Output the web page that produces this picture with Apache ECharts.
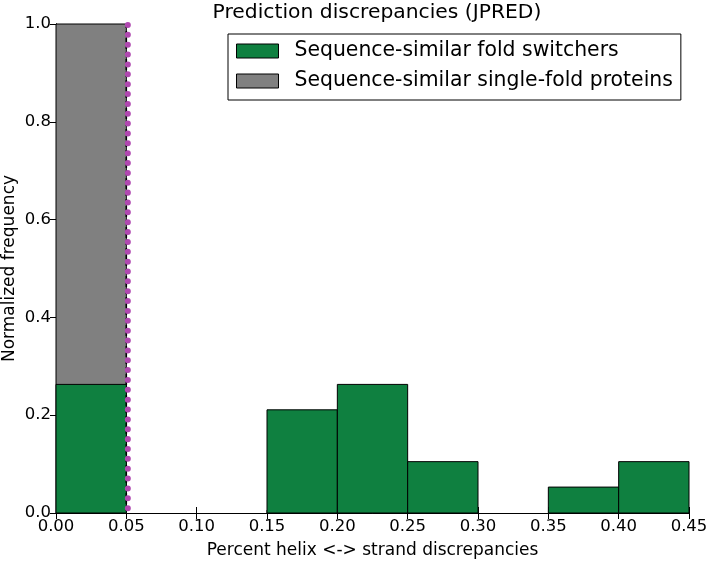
<!DOCTYPE html>
<html>
<head>
<meta charset="utf-8">
<script src="https://cdn.jsdelivr.net/npm/echarts@6/dist/echarts.min.js"></script>
<style>
  html, body { margin: 0; padding: 0; background: #fff; }
  #chart { width: 709px; height: 562px; }
</style>
</head>
<body>
<div id="chart"></div>
<script>
// histogram bins (left edges), width 0.05
const binStarts = [0.00, 0.05, 0.10, 0.15, 0.20, 0.25, 0.30, 0.35, 0.40];
const binWidth = 0.05;
const switcherFreq = [0.263, 0, 0, 0.211, 0.263, 0.105, 0, 0.053, 0.105];
const singleFoldFreq = [1.0, 0, 0, 0.006, 0, 0, 0, 0, 0];
// vertical cutoff marker: [x, yFrom, yTo]
const cutoffLine = [[0.05, 0, 1]];
const xTicks = ['0.00', '0.05', '0.10', '0.15', '0.20', '0.25', '0.30', '0.35', '0.40', '0.45'];

const FONT = 'DejaVu Sans';
const GREEN = '#0f8040';
const GRAY = '#808080';

function histData(vals) {
  const out = [];
  vals.forEach((v, i) => {
    if (v > 0) out.push([binStarts[i], binStarts[i] + binWidth, v]);
  });
  return out;
}

function rectRenderer(color) {
  return function (params, api) {
    const p0 = api.coord([api.value(0), api.value(2)]);
    const p1 = api.coord([api.value(1), 0]);
    return {
      type: 'rect',
      shape: { x: p0[0], y: p0[1], width: p1[0] - p0[0], height: p1[1] - p0[1] },
      style: { fill: color, stroke: '#000', lineWidth: 1 }
    };
  };
}

function cutoffRenderer(params, api) {
  const top = api.coord([api.value(0), api.value(2)]);
  const bot = api.coord([api.value(0), api.value(1)]);
  return {
    type: 'group',
    children: [{
      type: 'line',
      shape: { x1: top[0], y1: top[1], x2: bot[0], y2: bot[1] },
      style: { stroke: '#000', lineWidth: 1.5, lineDash: [4, 3] }
    }, {
      type: 'line',
      shape: { x1: top[0] + 1.5, y1: top[1] + 1, x2: bot[0] + 1.5, y2: bot[1] },
      style: { stroke: '#b048b0', lineWidth: 6, lineDash: [0.01, 9.85], lineCap: 'round' }
    }]
  };
}

const chart = echarts.init(document.getElementById('chart'));

const axisLine = { show: true, lineStyle: { color: '#000', width: 1 } };
const tick = { show: true, inside: true, length: 6, lineStyle: { color: '#000' } };

chart.setOption({
  animation: false,
  title: {
    text: 'Prediction discrepancies (JPRED)',
    left: 372, top: -2, textAlign: 'center',
    textStyle: { fontFamily: FONT, fontSize: 20.3, fontWeight: 'normal', color: '#000' }
  },
  grid: { left: 56, right: 20, top: 24, bottom: 49, outerBoundsMode: 'none', containLabel: false },
  legend: {
    orient: 'vertical',
    left: 228, top: 34,
    padding: [7, 8, 9, 8],
    itemGap: 10,
    itemWidth: 42, itemHeight: 14,
    icon: 'rect',
    borderColor: '#000', borderWidth: 1, borderRadius: 0,
    backgroundColor: '#fff',
    itemStyle: { borderColor: '#000', borderWidth: 1 },
    textStyle: { fontFamily: FONT, fontSize: 20.4, color: '#000', padding: [0, 0, 0, 11] },
    data: ['Sequence-similar fold switchers', 'Sequence-similar single-fold proteins']
  },
  xAxis: [{
    type: 'value', min: 0, max: 0.45, interval: 0.05,
    name: 'Percent helix <-> strand discrepancies',
    nameLocation: 'middle', nameGap: 29, nameMoveOverlap: false,
    nameTextStyle: { fontFamily: FONT, fontSize: 17, color: '#000' },
    axisLine: axisLine, axisTick: tick, splitLine: { show: false },
    axisLabel: {
      fontFamily: FONT, fontSize: 16.5, color: '#000', margin: 5,
      formatter: (v) => xTicks[Math.round(v / 0.05)]
    }
  }, {
    type: 'value', min: 0, max: 0.45, interval: 0.05, position: 'top',
    axisLine: axisLine, axisTick: tick, axisLabel: { show: false }, splitLine: { show: false }
  }],
  yAxis: [{
    type: 'value', min: 0, max: 1, interval: 0.2,
    name: 'Normalized frequency',
    nameLocation: 'middle', nameGap: 38, nameMoveOverlap: false,
    nameTextStyle: { fontFamily: FONT, fontSize: 17, color: '#000' },
    axisLine: axisLine, axisTick: tick, splitLine: { show: false },
    axisLabel: {
      fontFamily: FONT, fontSize: 16.5, color: '#000', margin: 5,
      formatter: (v) => v.toFixed(1)
    }
  }, {
    type: 'value', min: 0, max: 1, interval: 0.2, position: 'right',
    axisLine: axisLine, axisTick: tick, axisLabel: { show: false }, splitLine: { show: false }
  }],
  series: [
    {
      name: 'Sequence-similar single-fold proteins',
      type: 'custom', itemStyle: { color: GRAY },
      renderItem: rectRenderer(GRAY),
      data: histData(singleFoldFreq), z: 2
    },
    {
      name: 'Sequence-similar fold switchers',
      type: 'custom', itemStyle: { color: GREEN },
      renderItem: rectRenderer(GREEN),
      data: histData(switcherFreq), z: 3
    },
    {
      name: 'cutoff', type: 'custom', z: 4, clip: false,
      renderItem: cutoffRenderer,
      data: cutoffLine
    }
  ]
});
</script>
</body>
</html>
